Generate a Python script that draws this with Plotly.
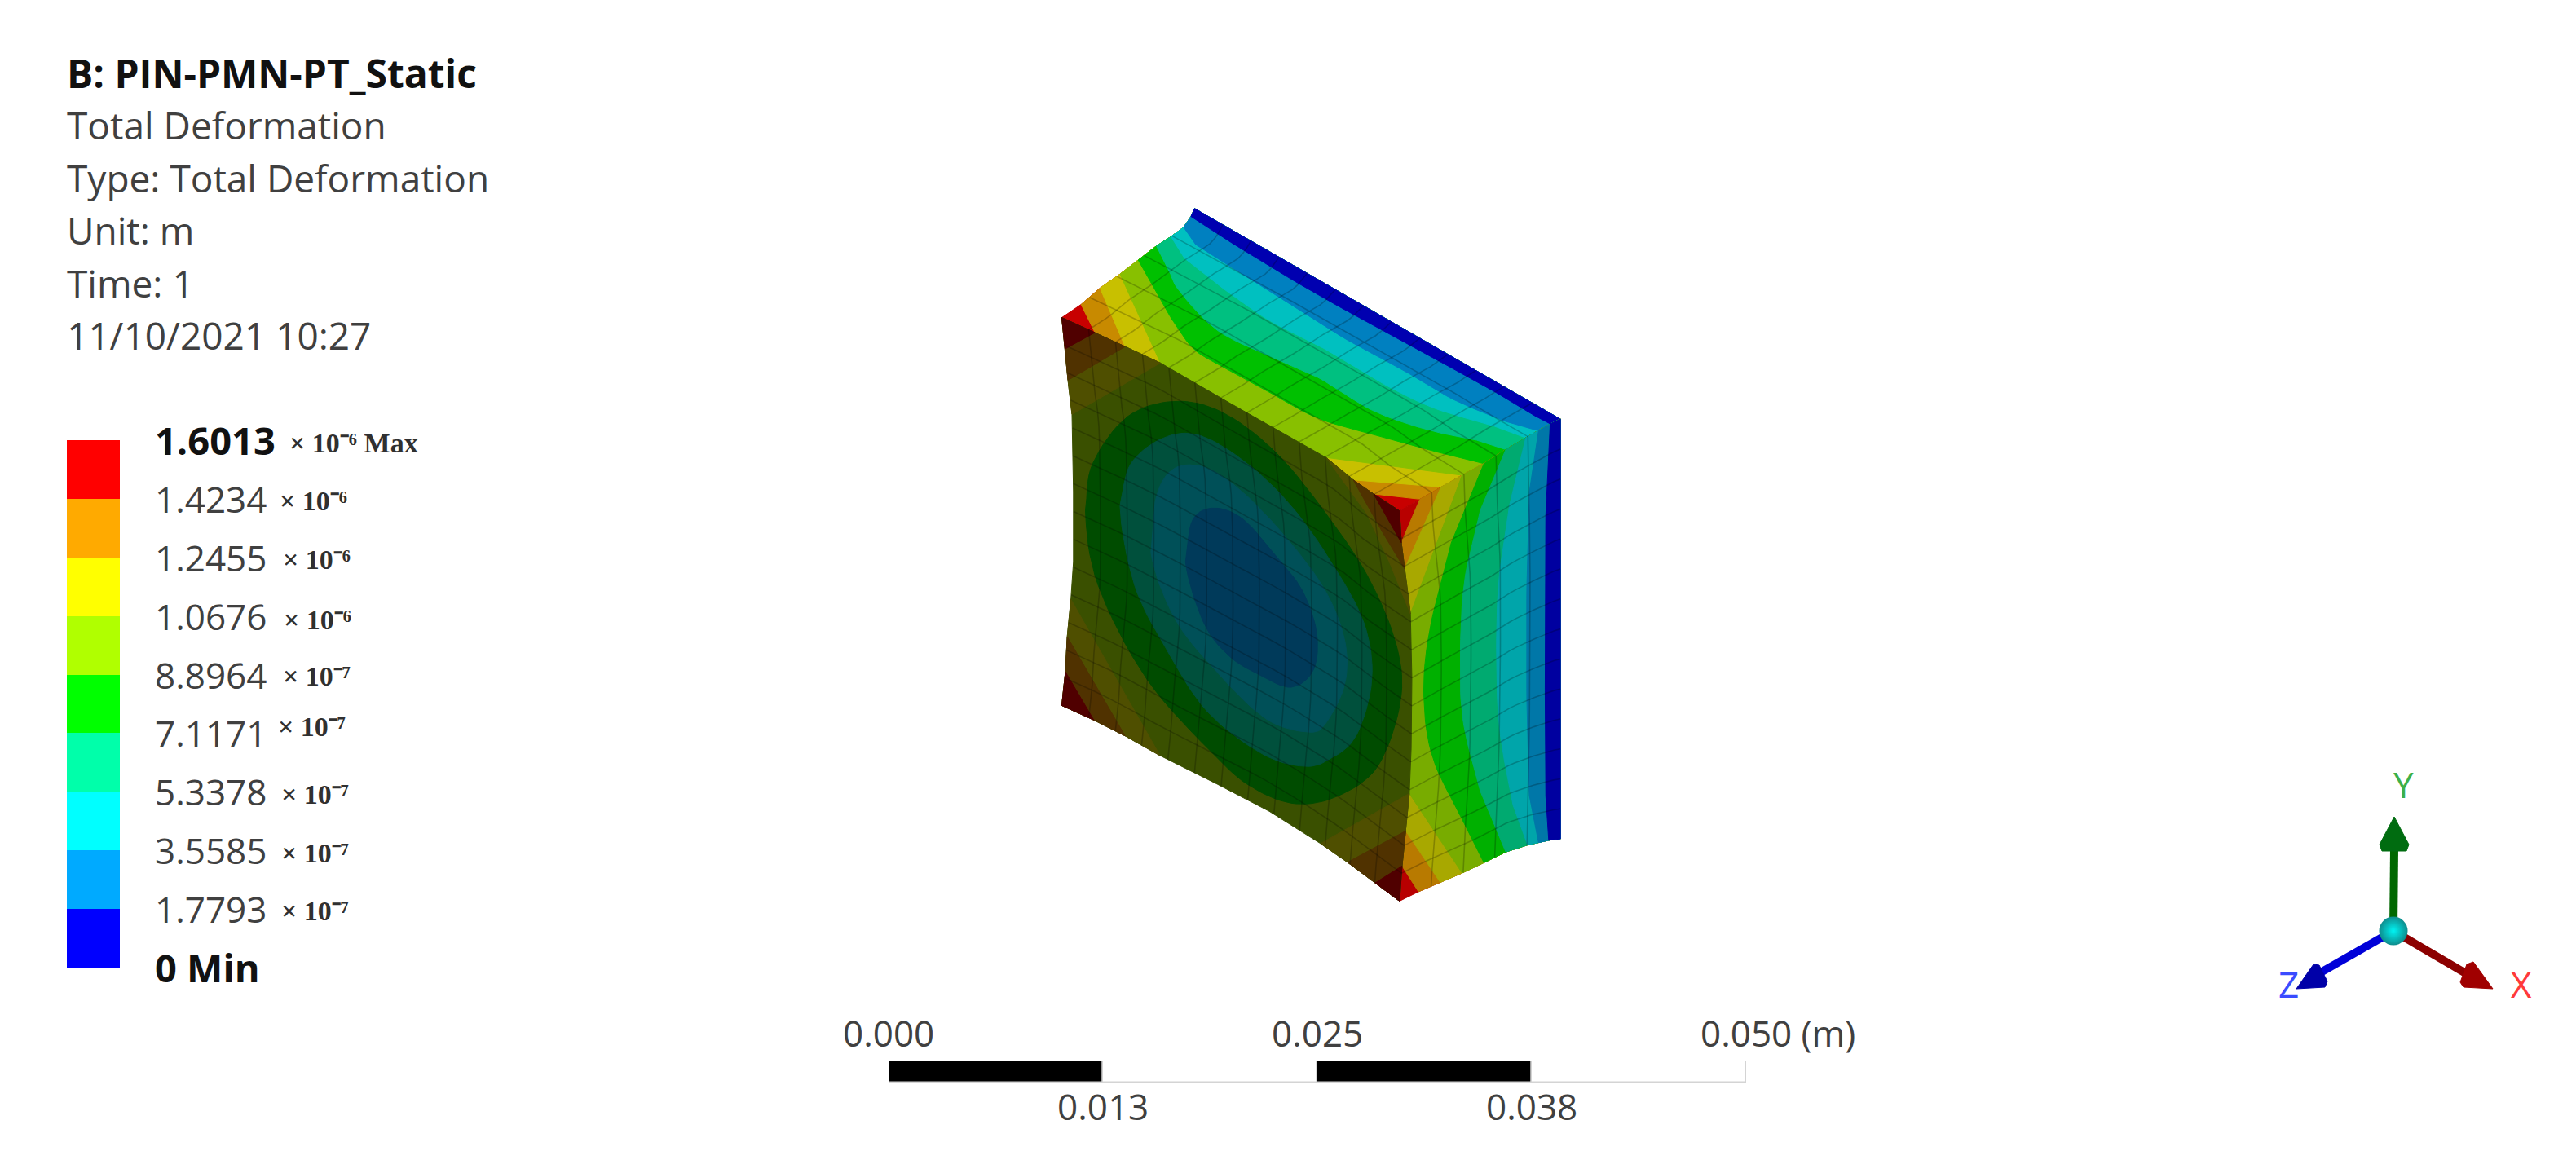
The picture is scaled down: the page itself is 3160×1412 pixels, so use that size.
#!/usr/bin/env python3
# Static structural result: three visible faces of the deformed block, legend, scale bar, triad.
import numpy as np
import plotly.graph_objects as go

WIDTH, HEIGHT = 3160, 1412
FONT = 'Open Sans'

HEADER = ['Total Deformation', 'Type: Total Deformation', 'Unit: m', 'Time: 1', '11/10/2021 10:27']
TITLE = 'B: PIN-PMN-PT_Static'

# legend: band edges in metres, top to bottom
LEGEND_EDGES = [1.6013e-6, 1.4234e-6, 1.2455e-6, 1.0676e-6, 8.8964e-7, 7.1171e-7, 5.3378e-7, 3.5585e-7, 1.7793e-7, 0]
LEGEND_LABELS = ['1.6013', '1.4234', '1.2455', '1.0676', '8.8964', '7.1171', '5.3378', '3.5585', '1.7793']
LEGEND_EXP = ['⁻⁶', '⁻⁶', '⁻⁶', '⁻⁶', '⁻⁷', '⁻⁷', '⁻⁷', '⁻⁷', '⁻⁷']
LEGEND_COLORS = ['#ff0000', '#ffaa00', '#ffff00', '#b0ff00', '#00ff00', '#00ffaa', '#00ffff', '#00aaff', '#0000ff']
SUFFIX_X = [352, 340, 344, 345, 344, 338, 342, 342, 342]
SUFFIX_SHIFT = [3, 3, 3, 5, 2, -8, 3, 3, 2]

SCALE_TICKS = [0, 0.0125, 0.025, 0.0375, 0.05]
SCALE_UPPER = {0: '0.000', 0.025: '0.025'}
SCALE_LOWER = {0.0125: '0.013', 0.0375: '0.038'}

# same bands as the legend, as they look on each lit face
TOP_SHADE = ['#c80000', '#c88a00', '#c8c000', '#88c000', '#00c000', '#00c080', '#00c0c0', '#0080c0', '#0000b0']
RIGHT_SHADE = ['#b80000', '#b87a00', '#a8a800', '#78ac00', '#00b000', '#00aa70', '#00a5aa', '#0077a8', '#0000a0']
FRONT_SHADE = ['#500000', '#503200', '#4f4f00', '#3a5000', '#004c00', '#00503c', '#005058', '#003c5c', '#003a5a']

CROP_X0, CROP_Y0, CROP_SX, CROP_SY = 1240, 230, 2.24, 1.742

FRONT_TOP = [(140, 278), (231, 310), (314, 340), (411, 375), (600, 460), (866, 577), (941, 625), (997, 655), (1068, 691)]
FRONT_BOTTOM = [(140, 1107), (228, 1138), (314, 1172), (410, 1214), (567, 1275), (710, 1333), (851, 1402), (925, 1442), (1001, 1486), (1068, 1525)]
FRONT_LEFT = [(140, 278), (149, 345), (157, 412), (168, 485), (172, 650), (172, 800), (165, 880), (155, 960), (150, 1035), (140, 1107)]
FRONT_RIGHT = [(1068, 691), (1073, 759), (1082, 815), (1098, 911), (1102, 1050), (1100, 1200), (1095, 1295), (1085, 1375), (1075, 1450), (1068, 1525)]

TOP_LEFT = [(140, 278), (193, 250), (245, 215), (300, 185), (350, 155), (400, 125), (440, 105), (475, 85), (495, 62), (505, 45)]
TOP_RIGHT = [(1068, 691), (1124, 666), (1182, 640), (1240, 615), (1300, 590), (1360, 560), (1415, 535), (1450, 520), (1482, 505), (1510, 495)]
RIGHT_BOTTOM = [(1068, 1525), (1120, 1505), (1180, 1485), (1240, 1465), (1300, 1443), (1360, 1420), (1420, 1405), (1450, 1400), (1478, 1395), (1510, 1392)]

# contour lines on the top face, from the edge towards the fixed back edge
TOP_CONTOURS = [
    FRONT_TOP[1:8],
    FRONT_TOP[2:7],
    FRONT_TOP[3:6],
    [(430, 267), (500, 343), (582, 383), (694, 430), (844, 493), (1030, 535), (1170, 565)],
    [(433, 174), (463, 221), (567, 305), (710, 360), (844, 406), (993, 476), (1142, 517), (1280, 540)],
    [(477, 151), (582, 215), (710, 284), (858, 343), (1008, 413), (1158, 470), (1328, 510)],
    [(508, 122), (650, 192), (784, 258), (925, 326), (1075, 389), (1216, 453), (1360, 500)],
    [(567, 99), (717, 171), (866, 239), (1015, 302), (1165, 366), (1315, 430), (1440, 488)],
]
# contour lines on the right face, running top to bottom
RIGHT_CONTOURS = [
    FRONT_RIGHT[1:9],
    FRONT_RIGHT[2:8],
    FRONT_RIGHT[3:7],
    [(1210, 760), (1150, 950), (1135, 1090), (1160, 1220), (1240, 1350)],
    [(1290, 690), (1245, 850), (1235, 1030), (1245, 1150), (1290, 1290)],
    [(1370, 680), (1340, 850), (1335, 1030), (1345, 1170), (1380, 1320)],
    [(1425, 650), (1418, 850), (1418, 1100), (1425, 1300)],
    [(1470, 700), (1468, 1000), (1470, 1300)],
]
# closed contours on the front face, outermost first, bands 4 to 8
FRONT_RINGS = [
    [(205, 690), (225, 590), (320, 490), (450, 457), (580, 480), (720, 560), (850, 680), (980, 830), (1060, 980), (1070, 1100), (1008, 1237), (900, 1300), (784, 1317), (670, 1285), (567, 1219), (374, 1051), (240, 850)],
    [(300, 680), (330, 590), (420, 535), (520, 530), (650, 590), (770, 680), (880, 800), (970, 930), (992, 1051), (950, 1170), (880, 1220), (806, 1237), (690, 1210), (540, 1120), (430, 990), (340, 850)],
    [(385, 780), (400, 660), (450, 600), (540, 600), (650, 660), (780, 770), (870, 870), (918, 970), (918, 1060), (870, 1140), (822, 1164), (700, 1135), (560, 1030), (450, 920)],
    [(480, 800), (500, 710), (560, 685), (640, 710), (730, 790), (800, 860), (840, 950), (832, 1030), (770, 1068), (680, 1040), (598, 1000), (530, 930)],
]
# corner wedges on the front face: (band, outline)
FRONT_WEDGES = [
    (2, [(140, 278), (231, 310), (314, 340), (411, 375), (168, 485), (157, 412), (149, 345)]),
    (1, [(140, 278), (231, 310), (314, 340), (157, 412), (149, 345)]),
    (0, [(140, 278), (231, 310), (149, 345)]),
    (2, [(140, 1107), (150, 1035), (155, 960), (165, 880), (410, 1214), (314, 1172), (228, 1138)]),
    (1, [(140, 1107), (150, 1035), (155, 960), (314, 1172), (228, 1138)]),
    (0, [(140, 1107), (150, 1035), (228, 1138)]),
    (2, [(851, 1402), (925, 1442), (1001, 1486), (1068, 1525), (1075, 1450), (1085, 1375), (1095, 1295)]),
    (1, [(925, 1442), (1001, 1486), (1068, 1525), (1075, 1450), (1085, 1375)]),
    (0, [(1001, 1486), (1068, 1525), (1075, 1450)]),
    (2, [(866, 577), (941, 625), (997, 655), (1068, 691), (1073, 759), (1082, 815), (1098, 911), (1040, 800), (978, 697)]),
    (1, [(941, 625), (997, 655), (1068, 691), (1073, 759), (1082, 815), (1020, 735)]),
    (0, [(997, 655), (1068, 691), (1073, 759)]),
]


def smooth(points, steps=8):
    # Catmull-Rom through the points, so the contour lines do not look faceted
    p = np.array(points, dtype=float)
    p = np.vstack([2 * p[0] - p[1], p, 2 * p[-1] - p[-2]])
    out = []
    for i in range(1, len(p) - 2):
        for t in np.linspace(0, 1, steps, endpoint=False):
            out.append(0.5 * (2 * p[i] + (p[i + 1] - p[i - 1]) * t
                              + (2 * p[i - 1] - 5 * p[i] + 4 * p[i + 1] - p[i + 2]) * t ** 2
                              + (3 * p[i] - p[i - 1] - 3 * p[i + 1] + p[i + 2]) * t ** 3))
    out.append(p[-2])
    return [tuple(q) for q in out]


def polygon(points, color, crop=True):
    xs = [q[0] for q in points]
    ys = [q[1] for q in points]
    if crop:
        xs = [CROP_X0 + v / CROP_SX for v in xs]
        ys = [CROP_Y0 + v / CROP_SY for v in ys]
    return go.Scatter(x=xs + xs[:1], y=ys + ys[:1], mode='lines', fill='toself', fillcolor=color,
                      line=dict(color=color, width=1), hoverinfo='skip', showlegend=False)


def along(edge, t):
    # point at fraction t of the length of a polyline
    p = np.array(smooth(edge))
    d = np.r_[0, np.cumsum(np.hypot(*np.diff(p, axis=0).T))]
    return np.array([np.interp(t * d[-1], d, p[:, 0]), np.interp(t * d[-1], d, p[:, 1])])


def mesh(top, bottom, left, right, cols, rows):
    # mesh lines of one face, a Coons patch between its four edges
    def patch(u, v):
        return ((1 - v) * along(top, u) + v * along(bottom, u) + (1 - u) * along(left, v) + u * along(right, v)
                - (1 - u) * (1 - v) * np.array(top[0]) - u * (1 - v) * np.array(top[-1])
                - (1 - u) * v * np.array(bottom[0]) - u * v * np.array(bottom[-1]))
    xs, ys = [], []
    ts = np.linspace(0, 1, 25)
    for u in np.linspace(0, 1, cols + 1)[1:-1]:
        line = [patch(u, t) for t in ts]
        xs += [q[0] for q in line] + [None]
        ys += [q[1] for q in line] + [None]
    for v in np.linspace(0, 1, rows + 1)[1:-1]:
        line = [patch(t, v) for t in ts]
        xs += [q[0] for q in line] + [None]
        ys += [q[1] for q in line] + [None]
    return xs, ys


fig = go.Figure()

# top face, band by band towards the back edge
back = [(505, 45), (1510, 495)]
fig.add_trace(polygon(TOP_LEFT + TOP_RIGHT[::-1] + FRONT_TOP[::-1][1:-1], TOP_SHADE[0]))
for i, contour in enumerate(TOP_CONTOURS):
    line = contour if i < 3 else smooth(contour)
    pts = [TOP_LEFT[i + 1]] + line + [TOP_RIGHT[i + 1]] + TOP_RIGHT[i + 2:] + TOP_LEFT[i + 1:][::-1]
    fig.add_trace(polygon(pts, TOP_SHADE[i + 1]))

# right face
fig.add_trace(polygon(TOP_RIGHT + RIGHT_BOTTOM[::-1] + FRONT_RIGHT[::-1][1:-1], RIGHT_SHADE[0]))
for i, contour in enumerate(RIGHT_CONTOURS):
    line = contour if i < 3 else smooth(contour)
    pts = [TOP_RIGHT[i + 1]] + line + [RIGHT_BOTTOM[i + 1]] + RIGHT_BOTTOM[i + 2:] + TOP_RIGHT[i + 1:][::-1]
    fig.add_trace(polygon(pts, RIGHT_SHADE[i + 1]))

# front face: olive field, corner wedges, rings
fig.add_trace(polygon(FRONT_TOP + FRONT_RIGHT[1:] + FRONT_BOTTOM[::-1][1:] + FRONT_LEFT[::-1][1:-1], FRONT_SHADE[3]))
for band, pts in FRONT_WEDGES:
    fig.add_trace(polygon(pts, FRONT_SHADE[band]))
for i, ring in enumerate(FRONT_RINGS):
    closed = smooth(ring + ring[:2])[:-8]
    fig.add_trace(polygon(closed, FRONT_SHADE[i + 4] if i < 3 else FRONT_SHADE[8]))

# mesh over all three faces
mesh_x, mesh_y = [], []
for args in [(FRONT_TOP, FRONT_BOTTOM, FRONT_LEFT, FRONT_RIGHT, 13, 14),
             (FRONT_TOP, back, TOP_LEFT, TOP_RIGHT, 13, 5),
             (TOP_RIGHT, RIGHT_BOTTOM, FRONT_RIGHT, [(1510, 495), (1510, 1392)], 5, 14)]:
    xs, ys = mesh(*args)
    mesh_x += xs
    mesh_y += ys
fig.add_trace(go.Scatter(
    x=[None if v is None else CROP_X0 + v / CROP_SX for v in mesh_x],
    y=[None if v is None else CROP_Y0 + v / CROP_SY for v in mesh_y],
    mode='lines', line=dict(color='rgba(0,0,0,0.22)', width=1.6), hoverinfo='skip', showlegend=False))

# triad
CENTER = (2936, 1142)
for end, col in [((2937, 1042), '#006800'), ((2845, 1194), '#0000d8'), ((3028, 1196), '#8c0000')]:
    fig.add_trace(go.Scatter(x=[CENTER[0], end[0]], y=[CENTER[1], end[1]], mode='lines',
                             line=dict(color=col, width=10), hoverinfo='skip', showlegend=False))
fig.add_trace(polygon([(2937, 1002), (2955, 1036), (2952, 1044), (2922, 1044), (2919, 1036)], '#006c10', crop=False))
fig.add_trace(polygon([(2817, 1213), (2838, 1183), (2845, 1184), (2855, 1204), (2852, 1211)], '#0000a8', crop=False))
fig.add_trace(polygon([(3058, 1213), (3034, 1180), (3026, 1183), (3018, 1205), (3022, 1211)], '#a00000', crop=False))
fig.add_trace(go.Scatter(x=[CENTER[0]], y=[CENTER[1]], mode='markers', hoverinfo='skip', showlegend=False,
                         marker=dict(size=35, color='#0e8c8c', line=dict(width=0),
                                     gradient=dict(type='radial', color='#00f4f4'))))

# legend bars on their own value axis
fig.add_trace(go.Bar(x=[0] * 9, y=[LEGEND_EDGES[i] - LEGEND_EDGES[i + 1] for i in range(9)], base=LEGEND_EDGES[1:],
                     width=1, marker=dict(color=LEGEND_COLORS, line=dict(width=0)),
                     xaxis='x3', yaxis='y3', hoverinfo='skip', showlegend=False))

# scale bar on its own axis in metres
fig.add_trace(go.Bar(x=np.diff(SCALE_TICKS), y=[0] * 4, base=SCALE_TICKS[:-1], orientation='h', width=1,
                     marker=dict(color=['#000000', '#ffffff'] * 2, line=dict(color='#d4d4d4', width=1.5)),
                     xaxis='x2', yaxis='y2', hoverinfo='skip', showlegend=False))


def label(text, x, y, size=44, color='#404040', anchor='left', xref='x', yref='y', family=FONT, xshift=0):
    fig.add_annotation(text=text, x=x, y=y, xref=xref, yref=yref, xanchor=anchor, yanchor='middle',
                       showarrow=False, font=dict(family=family, size=size, color=color),
                       borderpad=0, borderwidth=0, xshift=xshift)


label('<b>' + TITLE + '</b>', 82, 89, size=48, color='#111111')
for row, text in enumerate(HEADER):
    label(text, 82, 153 + 64.5 * row, size=46)

for i, text in enumerate(LEGEND_LABELS):
    if i == 0:
        label('<b>' + text + '</b>', 190, LEGEND_EDGES[i], size=47, color='#111111', yref='y3')
    else:
        label(text, 190, LEGEND_EDGES[i], yref='y3')
    tail = '<b>× 10' + LEGEND_EXP[i] + (' Max' if i == 0 else '') + '</b>'
    y_px = 540 + (1187 - 540) * i / 9 + SUFFIX_SHIFT[i]
    label(tail, SUFFIX_X[i] + 3, y_px, size=34, color='#303030', family='Liberation Serif')
label('<b>0 Min</b>', 190, LEGEND_EDGES[-1], size=47, color='#111111', yref='y3')

for tick, text in SCALE_UPPER.items():
    label(text, tick, 1267, anchor='center', xref='x2')
label('0.050 (m)', 0.05, 1267, anchor='left', xref='x2', xshift=-56)
for tick, text in SCALE_LOWER.items():
    label(text, tick, 1357, anchor='center', xref='x2')

label('Y', 2948, 962, color='#3cb04a', anchor='center')
label('Z', 2807, 1207, color='#3a4cff', anchor='center')
label('X', 3093, 1207, color='#ff3a3a', anchor='center')

hidden = dict(visible=False, showgrid=False, zeroline=False, fixedrange=True)
fig.update_layout(
    width=WIDTH, height=HEIGHT, margin=dict(l=0, r=0, t=0, b=0),
    paper_bgcolor='white', plot_bgcolor='rgba(0,0,0,0)', showlegend=False,
    barmode='overlay', bargap=0,
    xaxis=dict(range=[0, WIDTH], domain=[0, 1], **hidden),
    yaxis=dict(range=[HEIGHT, 0], domain=[0, 1], **hidden),
    xaxis2=dict(range=[0, 0.05], domain=[1090 / WIDTH, 2142 / WIDTH], anchor='y2', **hidden),
    yaxis2=dict(range=[-0.5, 0.5], domain=[1 - 1328 / HEIGHT, 1 - 1301 / HEIGHT], anchor='x2', **hidden),
    xaxis3=dict(range=[-0.5, 0.5], domain=[82 / WIDTH, 147 / WIDTH], anchor='y3', **hidden),
    yaxis3=dict(range=[0, LEGEND_EDGES[0]], domain=[1 - 1187 / HEIGHT, 1 - 540 / HEIGHT], anchor='x3', **hidden),
)

# the page's default body margin would push the figure 8 px down and right
fig.write_html('out.html', config=dict(displayModeBar=False), post_script="document.body.style.margin = '0';")
